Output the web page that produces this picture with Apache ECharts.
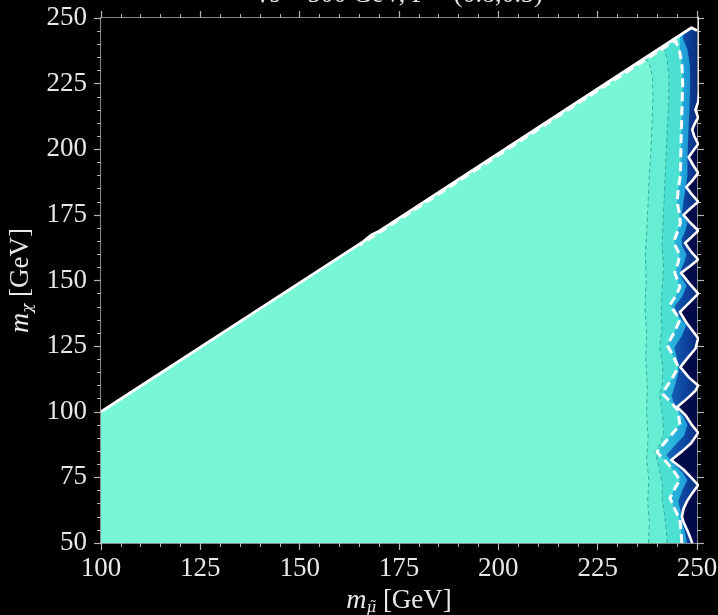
<!DOCTYPE html>
<html><head><meta charset="utf-8">
<script src="https://cdn.jsdelivr.net/npm/echarts@6/dist/echarts.min.js"></script>
<style>html,body{margin:0;padding:0;background:#000;}#c{width:718px;height:615px;}</style>
</head><body><div id="c"></div>
<script>
// ---- axis ranges / ticks ----
const xMin = 100, xMax = 250, yMin = 50, yMax = 250, tickStep = 25;
const titleText = '√s = 500 GeV, P = (0.8,0.3)';
const xName = '{i|m}{s|μ̃} [GeV]';
const yName = '{i|m}{s|χ} [GeV]';

// ---- kinematic edge (upper boundary of filled region) ----
const kinematicEdge = [[100,100],[166,164.8],[168,167.3],[170,168.8],[248.6,246.3],[250,245.2]];

// ---- contour lines [m_mu, m_chi] ----
const contour1 = [[237.8,50],[238.0,58],[237.6,66],[237.9,74],[237.3,82],[237.7,90],[237.3,100],[237.5,110],[237.1,120],[237.3,130],[236.9,140],[237.2,150],[237.0,160],[237.4,170],[237.7,180],[238.0,190],[238.4,200],[238.7,210],[238.9,220],[238.8,228],[237.9,233],[236.5,235]];
const contour2 = [[242.5,50],[242.2,56],[241.8,61],[241.2,67],[241.3,72],[240.6,78],[239.4,84.7],[240.9,88],[241.6,92],[241.4,98],[240.6,106],[241.3,111],[241.4,117],[240.6,125],[241.2,131],[241.0,138],[241.2,146],[241.6,155],[241.2,163],[241.4,170],[241.7,180],[242.0,190],[242.3,200],[242.6,210],[242.9,220],[242.9,228],[242.4,235],[241.4,239]];
const contourDashed = [[246.2,50],[246.0,54],[245.7,58.8],[244.4,63],[243.2,67.1],[244.5,71],[245.7,74],[243.9,78],[241.9,81.5],[239.9,84.7],[242.6,89.5],[245.7,95],[245.2,100.6],[243.2,104],[241.2,107],[243.5,112],[245.3,117],[244.1,121],[242.5,125.4],[244.2,130],[245.7,135],[244.4,138],[243.2,140.7],[244.6,144],[245.7,147.5],[245.0,150.5],[244.4,153],[245.3,157],[245.6,160],[244.6,163],[244.3,165.4],[245.2,169],[245.8,172],[245.5,176],[245.0,180],[245.3,185],[245.8,190],[245.9,197],[246.0,205],[246.2,215],[246.4,225],[246.2,232],[245.7,236.7]];
const ridgeDashed = [[245.7,236.7],[244.6,241.4],[240,237.0],[220,217.4],[200,197.7],[180,178.0],[165,163.4]];
const contourMid = [[247.5,50],[247.0,54],[246.3,58],[245.9,62],[245.3,66],[246.3,70],[247.6,74],[246.3,77],[244.2,80],[242.3,83.5],[244.3,87],[246.8,91],[247.6,95],[246.6,98],[244.5,102],[243.6,106],[244.6,111],[245.5,116],[245.0,120],[244.3,124.5],[246.2,129],[247.3,133],[245.4,136.5],[244.3,140],[246.3,144],[247.4,148],[246.2,151],[245.8,153.5],[246.8,157],[247.4,160],[246.3,163],[246.1,165.5],[247.1,169],[247.6,172],[246.2,175.5],[246.6,180],[247.1,185],[247.6,190],[247.6,197],[247.8,205],[248.1,215],[248.3,225],[248.2,232],[247.6,238],[246.5,242]];
const contourSolid = [[248.8,50],[248.3,52],[247.8,54],[247.2,56],[246.6,58],[246.2,60],[246.6,63],[247.5,66],[248.8,69],[250.3,72],[248.5,75],[246.6,78],[243.5,81.6],[246.3,85],[248.5,88],[250.3,92],[248.7,95],[247.2,98.5],[245.0,101.8],[247.5,105],[249.6,108],[250.3,110],[248.0,113],[245.8,117],[247.9,121],[249.6,124],[250.3,128],[248.8,131],[247.3,134],[245.7,138],[248.0,141.5],[250.3,145],[248.0,149],[246.0,152.9],[248.3,155.5],[250.3,158],[248.5,161],[247.0,164.3],[248.6,166.5],[250.3,169],[248.3,172],[246.6,175],[248.4,177.5],[250.3,180],[248.6,183],[247.3,185.6],[248.8,188],[250.3,191],[249.0,194],[247.9,197],[249.1,199.5],[250.3,202],[249.3,205],[248.8,207.5],[249.5,210],[250.3,212],[249.6,215],[250.3,218],[250.6,222],[250.6,252]];

// ---- styles ----
const FONT = 'Liberation Serif';
const TXT = '#e8e8e8';
const AX = '#b4b4b4';

function rightOf(arr){
  const f = arr[0], l = arr[arr.length-1];
  return [[f[0], yMin-2]].concat(arr, [[l[0], yMax+3],[xMax+2, yMax+3],[xMax+2, yMin-2]]);
}
function polySeries(pts, fill, z){
  return {type:'custom', coordinateSystem:'cartesian2d', clip:true, silent:true, z:z, animation:false,
    data:[[xMin, yMin]],
    renderItem:function(params, api){
      return {type:'polygon', shape:{points: pts.map(p => api.coord(p))}, style:{fill: fill}};
    }};
}
function lineSeries(pts, color, width, type, z){
  return {type:'line', data:pts, showSymbol:false, symbol:'none', silent:true, animation:false, clip:true, z:z,
    lineStyle:{color:color, width:width, type:type, cap:'butt', join:'round'}};
}

const basePoly = [[xMin, yMin]].concat(kinematicEdge, [[xMax, yMin]]);
const lastEdge = kinematicEdge[kinematicEdge.length-1];
const maskPoly = kinematicEdge.concat([[xMax+2, lastEdge[1]],[xMax+2, yMax+3],[xMin-2, yMax+3],[xMin-2, kinematicEdge[0][1]]]);

const G = echarts.graphic.LinearGradient;
const series = [
  polySeries(basePoly, '#77f7d6', 1),
  polySeries(rightOf(contour1), '#66eed5', 2),
  polySeries(rightOf(contour2), '#4ce0d3', 3),
  polySeries(rightOf(contourDashed), new G(0,0,1,0,[{offset:0,color:'#36c9da'},{offset:0.55,color:'#22a4da'},{offset:1,color:'#136cbe'}]), 4),
  polySeries(rightOf(contourMid), new G(0,0,1,0,[{offset:0,color:'#1568c0'},{offset:0.5,color:'#0d439e'},{offset:1,color:'#07206a'}]), 5),
  polySeries(rightOf(contourSolid), '#020a4a', 6),
  polySeries(maskPoly, '#000000', 7),
  lineSeries(contour1, '#34a493', 0.9, [4,3], 8),
  lineSeries(contour2, '#34a493', 0.9, [4,3], 8),
  lineSeries(contourDashed.concat(ridgeDashed.slice(1)), '#ffffff', 3, [9,5], 9),
  lineSeries(contourSolid, '#ffffff', 2.6, 'solid', 9),
  lineSeries(kinematicEdge, '#ffffff', 2.8, 'solid', 10)
];

function axisBase(extra){
  return Object.assign({
    type:'value', interval:tickStep, splitLine:{show:false},
    axisLine:{show:true, onZero:false, lineStyle:{color:AX, width:1.5}},
    axisTick:{show:true, inside:false, length:7, lineStyle:{color:AX, width:1.2}},
    minorTick:{show:true, splitNumber:5, length:4, lineStyle:{color:AX, width:1}},
    axisLabel:{show:false}
  }, extra);
}
const nameStyle = {color:TXT, fontFamily:FONT, fontSize:27,
  rich:{i:{fontStyle:'italic', fontFamily:FONT, fontSize:28, color:TXT},
        s:{fontStyle:'italic', fontFamily:'DejaVu Serif', fontSize:15, color:TXT, padding:[14,0,0,0]}}};

const option = {
  backgroundColor:'#000',
  animation:false,
  grid:{left:101, right:21, top:18, bottom:72, containLabel:false, outerBoundsMode:'none'},
  graphic:[{type:'text', x:399, y:8, silent:true,
    style:{text:titleText, fill:TXT, fontSize:26, fontFamily:FONT, align:'center', verticalAlign:'bottom'}}],
  xAxis:[
    axisBase({min:xMin, max:xMax, position:'bottom',
      axisLabel:{show:true, color:TXT, fontFamily:FONT, fontSize:27, margin:12},
      name:xName, nameLocation:'middle', nameGap:38, nameTextStyle:nameStyle}),
    axisBase({min:xMin, max:xMax, position:'top'})
  ],
  yAxis:[
    axisBase({min:yMin, max:yMax, position:'left',
      axisLabel:{show:true, color:TXT, fontFamily:FONT, fontSize:27, margin:14},
      name:yName, nameLocation:'middle', nameRotate:90, nameGap:56, nameTextStyle:nameStyle}),
    axisBase({min:yMin, max:yMax, position:'right'})
  ],
  series: series
};
const chart = echarts.init(document.getElementById('c'), null, {renderer:'canvas'});
chart.setOption(option);
</script></body></html>
